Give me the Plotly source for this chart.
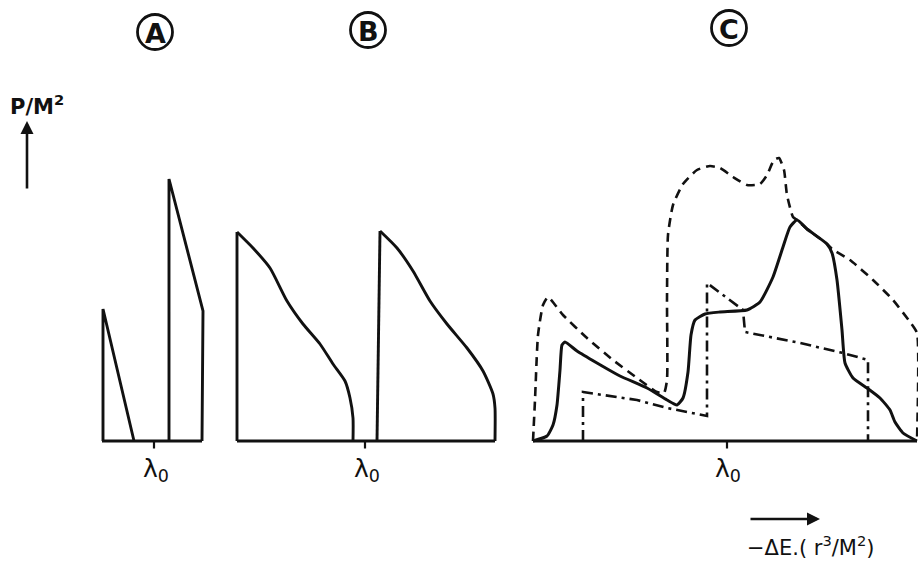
import plotly.graph_objects as go

# ---------------- data (x relative to lambda0, y = P/M^2 arbitrary units) -------------
# Panel A
a1_x = [-5.1, -5.1, -2.0]
a1_y = [0, 13.2, 0]
a2_x = [1.5, 1.5, 4.9, 4.8]
a2_y = [0, 26.2, 13.0, 0]
a_base_x = [-5.2, 4.8]

# Panel B
b1_x = [-12.8, -12.8, -11.2, -9.5, -7.8, -6.2, -4.5, -3.2, -2.0, -1.5, -1.2, -1.2]
b1_y = [0, 20.9, 19.3, 17.3, 14.0, 11.7, 9.7, 7.7, 6.0, 4.3, 2.3, 0]
b2_x = [1.2, 1.5, 3.2, 4.8, 6.5, 8.2, 10.2, 11.8, 12.8, 13.0, 13.0]
b2_y = [0, 21.0, 19.3, 17.0, 14.0, 11.7, 9.3, 7.0, 4.7, 3.3, 0]
b_base_x = [-12.8, 13.0]

# Panel C
c_solid_x = [-19.4, -18.0, -17.4, -17.0, -16.7, -16.5, -16.2, -15.0, -13.0, -10.7,
             -8.0, -6.0, -5.0, -4.4, -3.9, -3.6, -3.2, -2.2, -0.7, 2.0,
             3.3, 4.6, 5.6, 6.3, 7.0, 8.0, 10.0, 10.5, 11.0, 11.5,
             11.8, 12.6, 14.0, 15.3, 16.3, 16.8, 17.6, 19.0]
c_solid_y = [0, 0.5, 1.6, 3.6, 7.1, 9.6, 9.9, 9.0, 7.8, 6.5,
             5.3, 4.1, 3.6, 4.3, 6.9, 10.6, 12.1, 12.7, 12.9, 13.1,
             13.9, 16.4, 19.4, 21.4, 22.1, 21.2, 19.7, 18.8, 16.1, 11.1,
             7.8, 6.3, 5.3, 4.3, 3.1, 1.9, 0.8, 0]
c_dash_x = [-19.4, -19.2, -18.9, -18.4, -17.9, -16.4, -14.0, -11.4, -9.0, -7.0,
            -6.3, -6.0, -6.0, -5.9, -5.4, -4.4, -3.0, -1.7, -0.7, 0.6,
            2.0, 3.3, 4.0, 4.7, 5.2, 5.7, 6.0, 6.6, 7.0, 8.0,
            10.0, 10.5, 12.3, 14.6, 16.6, 18.3, 19.0, 19.0]
c_dash_y = [0, 4.1, 10.6, 13.6, 14.4, 12.6, 10.3, 8.1, 6.3, 4.9,
            4.8, 6.1, 14.1, 20.6, 23.6, 25.7, 27.1, 27.5, 27.3, 26.4,
            25.6, 25.7, 26.6, 28.1, 28.3, 27.1, 24.6, 22.4, 22.1, 21.2,
            19.7, 19.2, 18.1, 16.1, 14.1, 11.9, 10.8, 0]
c_dd_x = [-14.4, -14.4, -12.4, -9.0, -6.0, -2.0, -2.0, 1.6, 1.8, 7.3, 11.6, 14.1, 14.1]
c_dd_y = [0, 4.9, 4.6, 4.1, 3.3, 2.5, 15.8, 13.1, 10.9, 9.8, 8.8, 8.1, 0]
c_base_x = [-19.4, 19.0]

tick_y = [0, -0.75]
panel_labels = ["A", "B", "C"]

W, H = 918, 561
BLK = "#111111"
LW = 2.9

def px(x):
    return x / W

def py(y):
    return 1 - y / H

fig = go.Figure()

def add(x, y, ax, dash="solid", width=LW, shape="linear", smooth=None):
    line = dict(color=BLK, width=width, dash=dash, shape=shape)
    if smooth is not None:
        line["smoothing"] = smooth
    fig.add_trace(go.Scatter(x=x, y=y, xaxis=ax, yaxis="y", mode="lines",
                             line=line, hoverinfo="skip", showlegend=False))

# panel A
add(a1_x, a1_y, "x")
add(a2_x, a2_y, "x")
add(a_base_x, [0, 0], "x")
add([0, 0], tick_y, "x", width=2.2)
# panel B: vertical edges straight, falling edges smooth
for bx, by in ((b1_x, b1_y), (b2_x, b2_y)):
    add(bx[:2], by[:2], "x2")
    add(bx[1:], by[1:], "x2", shape="spline", smooth=0.6)
add(b_base_x, [0, 0], "x2")
add([0, 0], tick_y, "x2", width=2.2)
# panel C
add(c_base_x, [0, 0], "x3")
add(c_dash_x, c_dash_y, "x3", dash="9px,6px", width=2.6, shape="spline", smooth=0.5)
add(c_dd_x, c_dd_y, "x3", dash="11px,5px,3px,5px", width=2.6)
add(c_solid_x, c_solid_y, "x3", width=3.0, shape="spline", smooth=0.5)
add([0, 0], tick_y, "x3", width=2.2)

# axes: 1 unit = 10 px; baseline at pixel row 441
ax_common = dict(visible=False, showgrid=False, zeroline=False, fixedrange=True)
def xdom(lo_px, hi_px, lam_px):
    return dict(domain=[lo_px / W, hi_px / W], range=[(lo_px - lam_px) / 10, (hi_px - lam_px) / 10],
                anchor="y", **ax_common)

fig.update_layout(
    width=W, height=H,
    margin=dict(l=0, r=0, t=0, b=0),
    paper_bgcolor="white", plot_bgcolor="white",
    xaxis=xdom(90, 215, 154),
    xaxis2=xdom(225, 510, 365),
    xaxis3=xdom(520, 918, 727),
    yaxis=dict(domain=[0, 1], range=[(441 - H) / 10, 441 / 10], **ax_common),
    font=dict(family="DejaVu Sans", color=BLK),
)

def label(x, y, text, size, **kw):
    fig.add_annotation(x=px(x), y=py(y), xref="paper", yref="paper", text=text,
                       showarrow=False, xanchor="center", yanchor="middle",
                       font=dict(size=size, family="DejaVu Sans", color=BLK), **kw)

# circled panel labels
centers = [(155, 32), (368, 30), (729, 28)]
for lab, (cx, cy) in zip(panel_labels, centers):
    r = 17.5
    fig.add_shape(type="circle", xref="paper", yref="paper",
                  x0=px(cx - r), x1=px(cx + r), y0=py(cy + r), y1=py(cy - r),
                  line=dict(color=BLK, width=2.8))
    label(cx, cy + 1, f"<b>{lab}</b>", 27)

# lambda0 labels
for lam_px in (156, 367, 728):
    label(lam_px, 470, "λ<sub>0</sub>", 25)

# y-axis label and arrow
label(37, 105, "<b>P/M<sup>2</sup></b>", 21)
fig.add_annotation(x=px(27), y=py(121), xref="paper", yref="paper",
                   ax=0, ay=69, axref="pixel", ayref="pixel",
                   text="", showarrow=True, arrowhead=2, arrowsize=1.0,
                   arrowwidth=2.6, arrowcolor=BLK)

# x-axis label and arrow
fig.add_annotation(x=px(820), y=py(519), xref="paper", yref="paper",
                   ax=-71, ay=0, axref="pixel", ayref="pixel",
                   text="", showarrow=True, arrowhead=2, arrowsize=1.0,
                   arrowwidth=2.6, arrowcolor=BLK)
label(811, 546, "−ΔE.( r<sup>3</sup>/M<sup>2</sup>)", 21)

fig.write_html("out.html")
